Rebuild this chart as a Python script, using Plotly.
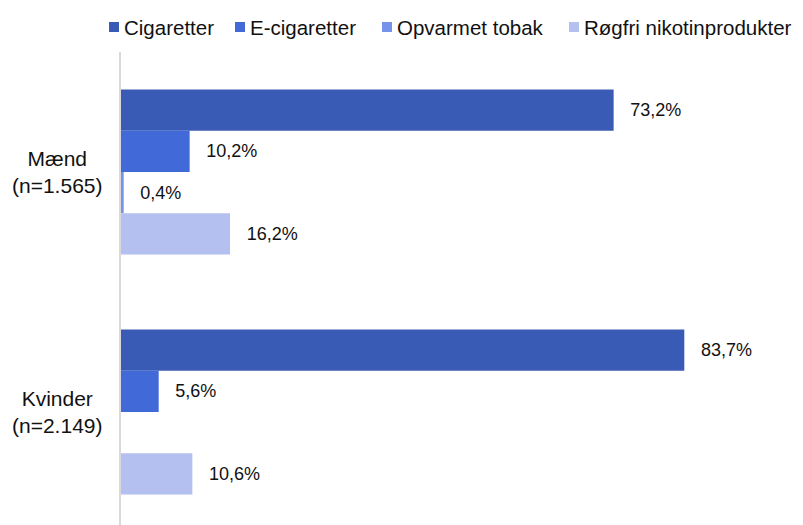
import plotly.graph_objects as go

categories = ['Mænd<br>(n=1.565)', 'Kvinder<br>(n=2.149)']
series = ['Cigaretter', 'E-cigaretter', 'Opvarmet tobak', 'Røgfri nikotinprodukter']
values = {
    'Cigaretter': [73.2, 83.7],
    'E-cigaretter': [10.2, 5.6],
    'Opvarmet tobak': [0.4, None],
    'Røgfri nikotinprodukter': [16.2, 10.6],
}
colors = ['#3a5bb5', '#4169d8', '#7593e8', '#b4c0f0']

FONT = 'Arial, Liberation Sans, sans-serif'
OFF = 8  # the page body adds 8px margin, so the figure is drawn that much smaller
W, H = 803 - OFF, 525 - OFF
ML, MT, MB = 121 - OFF, 52 - OFF, 0
PW = 673
MR = W - ML - PW
PH = H - MT - MB


def px(x):
    return (x - OFF - ML) / PW


def py(y):
    return (H - MB - (y - OFF)) / PH


def pct(v):
    if v is None:
        return ''
    return '\u00a0\u00a0\u2009' + f'{v:.1f}'.replace('.', ',') + '%'


fig = go.Figure()
for name, col in zip(series, colors):
    fig.add_trace(go.Bar(
        y=categories, x=values[name], name=name, orientation='h',
        marker=dict(color=col, line_width=0),
        text=[pct(v) for v in values[name]],
        textposition='outside', cliponaxis=False, constraintext='none',
        textfont=dict(family=FONT, size=18, color='#111111'),
    ))

# category labels, centred like the original
for c in categories:
    fig.add_annotation(x=0, xref='paper', y=c, yref='y', text=c, showarrow=False,
                       xanchor='right', xshift=-17, align='center',
                       font=dict(family=FONT, size=21, color='#111111'))

# legend drawn by hand so the spacing matches
legend_sq = [109, 235, 382, 569]
for name, col, sx in zip(series, colors, legend_sq):
    fig.add_shape(type='rect', xref='paper', yref='paper',
                  x0=px(sx), x1=px(sx + 10), y0=py(32), y1=py(22),
                  fillcolor=col, line_width=0)
    fig.add_annotation(x=px(sx + 14), xref='paper', y=py(27), yref='paper',
                       text=name, showarrow=False, xanchor='left', yanchor='middle',
                       borderpad=0,
                       font=dict(family=FONT, size=20.5, color='#111111'))

fig.update_layout(
    width=W, height=H,
    margin=dict(l=ML, r=MR, t=MT, b=MB),
    plot_bgcolor='white', paper_bgcolor='white',
    barmode='group', bargap=0.3125, bargroupgap=0,
    font=dict(family=FONT, color='#111111'),
    showlegend=False,
)
fig.update_xaxes(range=[0, 100], visible=False)
fig.update_yaxes(range=[1.471, -0.5], showticklabels=False, ticks='',
                 showline=True, linecolor='#d9d9d9', linewidth=2,
                 showgrid=False, zeroline=False)

fig.write_html("out.html")
